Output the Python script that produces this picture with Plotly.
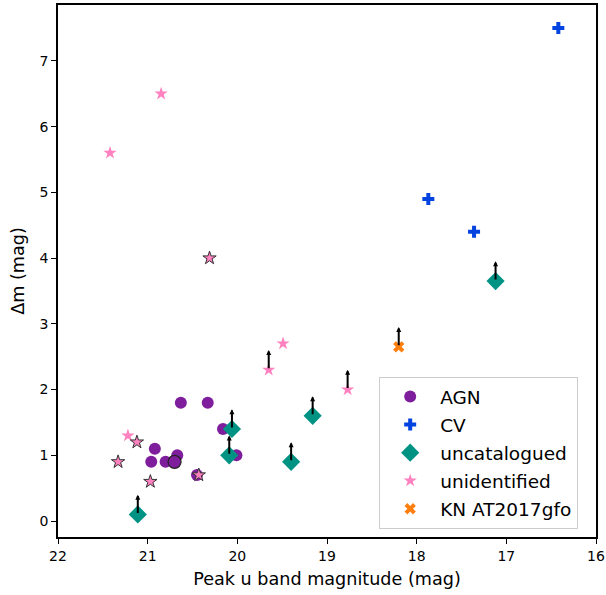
import plotly.graph_objects as go

# ---- data ----
agn_x = [20.63, 20.33, 20.92, 20.96, 20.80, 20.67, 20.70, 20.16, 20.01, 20.45]
agn_y = [1.8, 1.8, 1.1, 0.9, 0.9, 1.0, 0.9, 1.4, 1.0, 0.7]
agn_hl = [0, 0, 0, 0, 0, 0, 1, 0, 0, 0]

cv_x = [16.42, 17.87, 17.36]
cv_y = [7.5, 4.9, 4.4]

unc_x = [21.11, 20.06, 20.09, 19.40, 19.16, 17.12]
unc_y = [0.1, 1.4, 1.0, 0.9, 1.6, 3.65]
unc_lim = [1, 1, 1, 1, 1, 1]

uid_x = [21.42, 20.85, 21.22, 21.12, 21.33, 20.97, 20.43, 20.31, 19.49, 19.65, 18.77]
uid_y = [5.6, 6.5, 1.3, 1.2, 0.9, 0.6, 0.7, 4.0, 2.7, 2.3, 2.0]
uid_hl = [0, 0, 0, 1, 1, 1, 1, 1, 0, 0, 0]
uid_lim = [0, 0, 0, 0, 0, 0, 0, 0, 0, 1, 1]

kn_x = [18.20]
kn_y = [2.65]
kn_lim = [1]

x_ticks = [22, 21, 20, 19, 18, 17, 16]
y_ticks = [0, 1, 2, 3, 4, 5, 6, 7]

ARROW_LEN = 0.3

C_AGN = "#7E1E9C"
C_CV = "#0343DF"
C_UNC = "#009384"
C_UID = "#FF81C0"
C_KN = "#FF7F0E"


def pick(vals, flags, want):
    return [v for v, f in zip(vals, flags) if bool(f) == want]


fig = go.Figure()

# AGN
fig.add_trace(go.Scatter(
    x=pick(agn_x, agn_hl, False), y=pick(agn_y, agn_hl, False), mode="markers",
    name="AGN", legendgroup="agn",
    marker=dict(symbol="circle", size=12, color=C_AGN, line=dict(width=0))))
fig.add_trace(go.Scatter(
    x=pick(agn_x, agn_hl, True), y=pick(agn_y, agn_hl, True), mode="markers",
    name="AGN", legendgroup="agn", showlegend=False,
    marker=dict(symbol="circle", size=13, color=C_AGN, line=dict(color="#222222", width=1.2))))
# CV
fig.add_trace(go.Scatter(
    x=cv_x, y=cv_y, mode="markers", name="CV", legendgroup="cv",
    marker=dict(symbol="cross", size=10, color=C_CV, line=dict(width=0))))
# uncatalogued
fig.add_trace(go.Scatter(
    x=unc_x, y=unc_y, mode="markers", name="uncatalogued", legendgroup="unc",
    marker=dict(symbol="diamond", size=14, color=C_UNC, line=dict(width=0))))
# unidentified
fig.add_trace(go.Scatter(
    x=pick(uid_x, uid_hl, False), y=pick(uid_y, uid_hl, False), mode="markers",
    name="unidentified", legendgroup="uid",
    marker=dict(symbol="star", size=10, color=C_UID, line=dict(width=0))))
fig.add_trace(go.Scatter(
    x=pick(uid_x, uid_hl, True), y=pick(uid_y, uid_hl, True), mode="markers",
    name="unidentified", legendgroup="uid", showlegend=False,
    marker=dict(symbol="star", size=10, color=C_UID, line=dict(color="#333333", width=1))))
# KN
fig.add_trace(go.Scatter(
    x=kn_x, y=kn_y, mode="markers", name="KN AT2017gfo", legendgroup="kn",
    marker=dict(symbol="x", size=10, color=C_KN, line=dict(width=0))))

annotations = []
for xs, ys, lims in [(unc_x, unc_y, unc_lim), (uid_x, uid_y, uid_lim), (kn_x, kn_y, kn_lim)]:
    for xv, yv, lim in zip(xs, ys, lims):
        if lim:
            annotations.append(dict(
                x=xv, y=yv + ARROW_LEN, ax=xv, ay=yv,
                xref="x", yref="y", axref="x", ayref="y",
                showarrow=True, arrowhead=2, arrowsize=0.5, arrowwidth=2,
                arrowcolor="black", text=""))

fig.update_layout(
    width=606, height=595,
    margin=dict(l=58, r=10, t=5, b=58),
    paper_bgcolor="white", plot_bgcolor="white",
    font=dict(family="DejaVu Sans", color="black", size=14),
    annotations=annotations,
    showlegend=True,
    legend=dict(
        x=0.597, y=0.015, xanchor="left", yanchor="bottom",
        bgcolor="rgba(255,255,255,0.8)", bordercolor="#cccccc", borderwidth=1,
        font=dict(size=18.5), itemsizing="trace", itemwidth=50, tracegroupgap=1),
    xaxis=dict(
        range=[22, 16], tickvals=x_ticks, ticktext=[str(t) for t in x_ticks],
        automargin=False,
        showgrid=False, zeroline=False, showline=True, linecolor="black", linewidth=1.5,
        mirror=True, ticks="outside", ticklen=5, tickwidth=1.2, tickcolor="black",
        tickfont=dict(size=14),
        title=dict(text="Peak u band magnitude (mag)", font=dict(size=17.6), standoff=10)),
    yaxis=dict(
        range=[-0.243, 7.85], tickvals=y_ticks, ticktext=[str(t) for t in y_ticks],
        automargin=False,
        showgrid=False, zeroline=False, showline=True, linecolor="black", linewidth=1.5,
        mirror=True, ticks="outside", ticklen=5, tickwidth=1.2, tickcolor="black",
        tickfont=dict(size=14),
        title=dict(text="Δm (mag)", font=dict(size=17.6), standoff=10)),
)

fig.write_html("out.html", config={"displayModeBar": False},
               post_script="document.body.style.margin='0';document.body.style.overflow='hidden';")
